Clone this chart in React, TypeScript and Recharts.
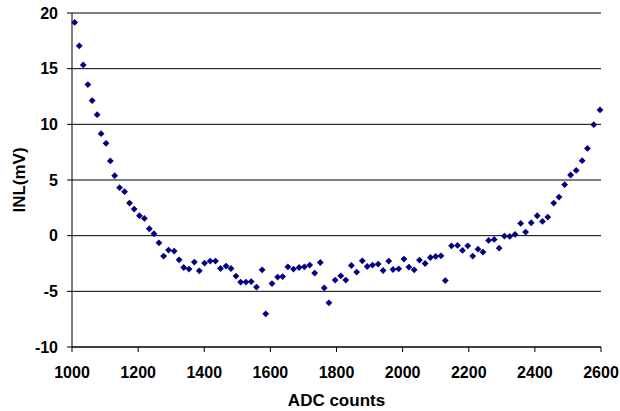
import React from 'react';
import {
  ScatterChart,
  Scatter,
  XAxis,
  YAxis,
  CartesianGrid,
} from 'recharts';

// ADC code (x) and INL in mV (y)
const adcCounts = [
  1008, 1022, 1034, 1048, 1061, 1076, 1088, 1103, 1116, 1129,
  1144, 1159, 1174, 1188, 1204, 1219, 1234, 1248, 1263, 1277,
  1292, 1309, 1324, 1338, 1354, 1370, 1385, 1401, 1418, 1434,
  1449, 1466, 1481, 1496, 1510, 1526, 1542, 1558, 1575, 1586,
  1605, 1622, 1637, 1653, 1670, 1687, 1703, 1719, 1734, 1751,
  1763, 1777, 1796, 1813, 1828, 1845, 1861, 1878, 1893, 1909,
  1926, 1941, 1958, 1971, 1988, 2004, 2019, 2035, 2051, 2068,
  2084, 2100, 2116, 2129, 2148, 2166, 2181, 2197, 2212, 2228,
  2243, 2260, 2277, 2292, 2308, 2324, 2340, 2357, 2372, 2389,
  2407, 2423, 2439, 2457, 2473, 2490, 2508, 2525, 2543, 2559,
  2578, 2597,
];

const inlValues = [
  19.15, 17.05, 15.34, 13.57, 12.13, 10.87, 9.16, 8.29, 6.71, 5.39,
  4.31, 3.95, 2.93, 2.39, 1.79, 1.55, 0.62, 0.17, -0.64, -1.83,
  -1.29, -1.38, -2.17, -2.86, -3.0, -2.37, -3.16, -2.46, -2.28, -2.28,
  -2.95, -2.73, -2.95, -3.63, -4.17, -4.17, -4.12, -4.62, -3.07, -7.02,
  -4.3, -3.72, -3.67, -2.8, -3.0, -2.86, -2.8, -2.64, -3.36, -2.41,
  -4.69, -6.03, -3.99, -3.61, -3.99, -2.68, -3.27, -2.26, -2.77, -2.64,
  -2.55, -3.13, -2.28, -3.04, -2.98, -2.1, -2.82, -3.07, -2.19, -2.5,
  -1.96, -1.87, -1.81, -4.03, -0.91, -0.88, -1.33, -0.91, -1.83, -1.21,
  -1.47, -0.43, -0.34, -1.12, -0.04, -0.07, 0.11, 1.1, 0.32, 1.16,
  1.79, 1.28, 1.67, 2.93, 3.47, 4.58, 5.45, 5.86, 6.74, 7.84,
  9.97, 11.29,
];

const xTicks = [1000, 1200, 1400, 1600, 1800, 2000, 2200, 2400, 2600];
const yTicks = [-10, -5, 0, 5, 10, 15, 20];

const FONT = 'Arial, "Liberation Sans", sans-serif';

const Diamond = (props: any) => {
  const { cx, cy } = props;
  const r = 3.4;
  return (
    <path
      d={`M${cx},${cy - r}L${cx + r},${cy}L${cx},${cy + r}L${cx - r},${cy}Z`}
      fill="#000080"
    />
  );
};

export default function App() {
  const data = adcCounts.map((x, i) => ({ x, y: inlValues[i] }));
  const tickStyle = { fill: '#000', fontSize: 16, fontWeight: 'bold', fontFamily: FONT };
  const titleStyle = { fill: '#000', fontSize: 17, fontWeight: 'bold', fontFamily: FONT };

  return (
    <div style={{ position: 'absolute', left: 0, top: 0, width: 620, height: 411, background: '#fff' }}>
      <ScatterChart width={620} height={411} margin={{ top: 13, right: 19, bottom: 0, left: 0 }}>
        <CartesianGrid horizontal vertical={false} stroke="#000" />
        <XAxis
          dataKey="x"
          type="number"
          domain={[1000, 2600]}
          ticks={xTicks}
          height={64}
          tickSize={5}
          tickMargin={15}
          stroke="#000"
          tick={tickStyle}
          label={{
            value: 'ADC counts',
            position: 'insideBottom',
            offset: 5,
            style: titleStyle,
          }}
        />
        <XAxis
          xAxisId="top"
          orientation="top"
          type="number"
          domain={[1000, 2600]}
          height={0}
          tick={false}
          tickLine={false}
          axisLine={{ stroke: '#808080' }}
        />
        <YAxis
          dataKey="y"
          type="number"
          domain={[-10, 20]}
          ticks={yTicks}
          width={72}
          tickSize={5}
          tickMargin={9}
          stroke="#000"
          tick={tickStyle}
          label={{
            value: 'INL(mV)',
            angle: -90,
            position: 'insideLeft',
            offset: 19,
            style: { ...titleStyle, textAnchor: 'middle' },
          }}
        />
        <YAxis
          yAxisId="right"
          orientation="right"
          type="number"
          domain={[-10, 20]}
          width={0}
          tick={false}
          tickLine={false}
          axisLine={{ stroke: '#808080' }}
        />
        <Scatter data={data} shape={<Diamond />} isAnimationActive={false} />
      </ScatterChart>
    </div>
  );
}
